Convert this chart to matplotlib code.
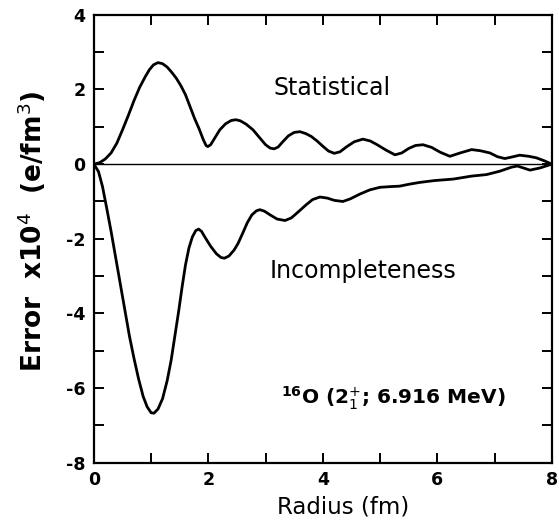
import matplotlib.pyplot as plt

# Statistical error curve (radius in fm, error x1e4 e/fm^3)
stat_r = [0.0, 0.1, 0.2, 0.3, 0.4, 0.5, 0.6, 0.7, 0.8, 0.9, 0.97, 1.04, 1.12,
          1.2, 1.28, 1.36, 1.44, 1.52, 1.6, 1.68, 1.76, 1.84, 1.91, 1.96, 1.99,
          2.04, 2.12, 2.2, 2.3, 2.4, 2.48, 2.56, 2.66, 2.78, 2.9, 3.0, 3.08,
          3.15, 3.22, 3.3, 3.4, 3.5, 3.6, 3.7, 3.8, 3.9, 4.0, 4.1, 4.2, 4.3,
          4.42, 4.55, 4.7, 4.83, 4.95, 5.1, 5.26, 5.38, 5.5, 5.62, 5.75, 5.9,
          6.05, 6.22, 6.4, 6.6, 6.75, 6.92, 7.05, 7.18, 7.3, 7.44, 7.6, 7.73,
          7.87, 8.0]
stat_err = [0.0, 0.04, 0.14, 0.3, 0.56, 0.92, 1.3, 1.7, 2.06, 2.35, 2.53, 2.66, 2.72,
            2.69, 2.6, 2.46, 2.3, 2.1, 1.86, 1.54, 1.22, 0.94, 0.66, 0.5, 0.47,
            0.52, 0.72, 0.92, 1.08, 1.17, 1.19, 1.16, 1.07, 0.92, 0.7, 0.52, 0.43,
            0.41, 0.46, 0.6, 0.76, 0.85, 0.87, 0.82, 0.74, 0.62, 0.48, 0.35, 0.29, 0.33,
            0.47, 0.6, 0.67, 0.62, 0.52, 0.38, 0.25, 0.3, 0.42, 0.5, 0.52, 0.45,
            0.32, 0.21, 0.3, 0.39, 0.36, 0.3, 0.2, 0.15, 0.19, 0.24, 0.21, 0.17,
            0.09, 0.0]

# Incompleteness error curve
inc_r = [0.0, 0.08, 0.15, 0.22, 0.3, 0.38, 0.46, 0.54, 0.62, 0.7, 0.78, 0.86, 0.93,
         1.0, 1.05, 1.12, 1.2, 1.28, 1.35, 1.42, 1.48, 1.54, 1.6, 1.66, 1.72,
         1.78, 1.83, 1.88, 1.95, 2.04, 2.14, 2.22, 2.28, 2.36, 2.45, 2.52, 2.6,
         2.68, 2.76, 2.84, 2.9, 2.98, 3.08, 3.2, 3.34, 3.45, 3.57, 3.7, 3.82,
         3.95, 4.08, 4.2, 4.35, 4.48, 4.65, 4.82, 5.0, 5.2, 5.34, 5.5, 5.69,
         5.95, 6.28, 6.6, 6.86, 7.09, 7.3, 7.4, 7.5, 7.62, 7.8, 8.0]
inc_err = [0.0, -0.2, -0.6, -1.15, -1.8, -2.5, -3.2, -3.9, -4.6, -5.2, -5.75, -6.22, -6.5,
           -6.66, -6.67, -6.56, -6.28, -5.8, -5.25, -4.55, -3.95, -3.3, -2.7, -2.25, -1.95,
           -1.78, -1.74, -1.8, -1.98, -2.2, -2.4, -2.5, -2.52, -2.46, -2.3, -2.12, -1.85,
           -1.57, -1.36, -1.25, -1.22, -1.26, -1.36, -1.47, -1.51, -1.44, -1.28, -1.1, -0.95,
           -0.88, -0.91, -0.97, -1.0, -0.93, -0.8, -0.69, -0.62, -0.6, -0.59, -0.54, -0.49,
           -0.44, -0.4, -0.32, -0.28, -0.19, -0.08, -0.05, -0.1, -0.16, -0.1, 0.0]

x_ticks = list(range(0, 9))
x_labels = ["0", "", "2", "", "4", "", "6", "", "8"]
y_ticks = list(range(-8, 5))
y_labels = ["-8", "", "-6", "", "-4", "", "-2", "", "0", "", "2", "", "4"]

plt.rcParams["font.family"] = "DejaVu Sans"

fig = plt.figure(figsize=(5.59, 5.20), dpi=100)
ax = fig.add_axes([0.168, 0.110, 0.819, 0.8615])

ax.axhline(0, color="black", linewidth=1.0)
ax.plot(stat_r, stat_err, color="black", linewidth=2.0)
ax.plot(inc_r, inc_err, color="black", linewidth=2.0)

ax.set_xlim(0, 8)
ax.set_ylim(-8, 4)
ax.set_xticks(x_ticks)
ax.set_xticklabels(x_labels)
ax.set_yticks(y_ticks)
ax.set_yticklabels(y_labels)
ax.tick_params(direction="in", length=7, width=1.4, top=True, right=True,
               labelsize=12.5, pad=6)
for lab in ax.get_xticklabels() + ax.get_yticklabels():
    lab.set_fontweight("bold")
for spine in ax.spines.values():
    spine.set_linewidth(1.6)

ax.text(4.16, 2.05, "Statistical", fontsize=17, ha="center", va="center")
ax.text(4.7, -2.85, "Incompleteness", fontsize=17, ha="center", va="center")
ax.text(5.24, -6.27, r"$^{\mathbf{16}}$O (2$^{+}_{1}$; 6.916 MeV)", fontsize=14.5,
        ha="center", va="center", fontweight="bold")

ax.set_xlabel("Radius (fm)", fontsize=16.5, va="center")
ax.xaxis.set_label_coords(0.544, -0.098)
ax.set_ylabel(r"Error  x10$^{4}$  (e/fm$^{3}$)", fontsize=19, fontweight="bold",
              va="center", ha="center")
ax.yaxis.set_label_coords(-0.135, 0.517)

fig.savefig("out.png", dpi=100)
